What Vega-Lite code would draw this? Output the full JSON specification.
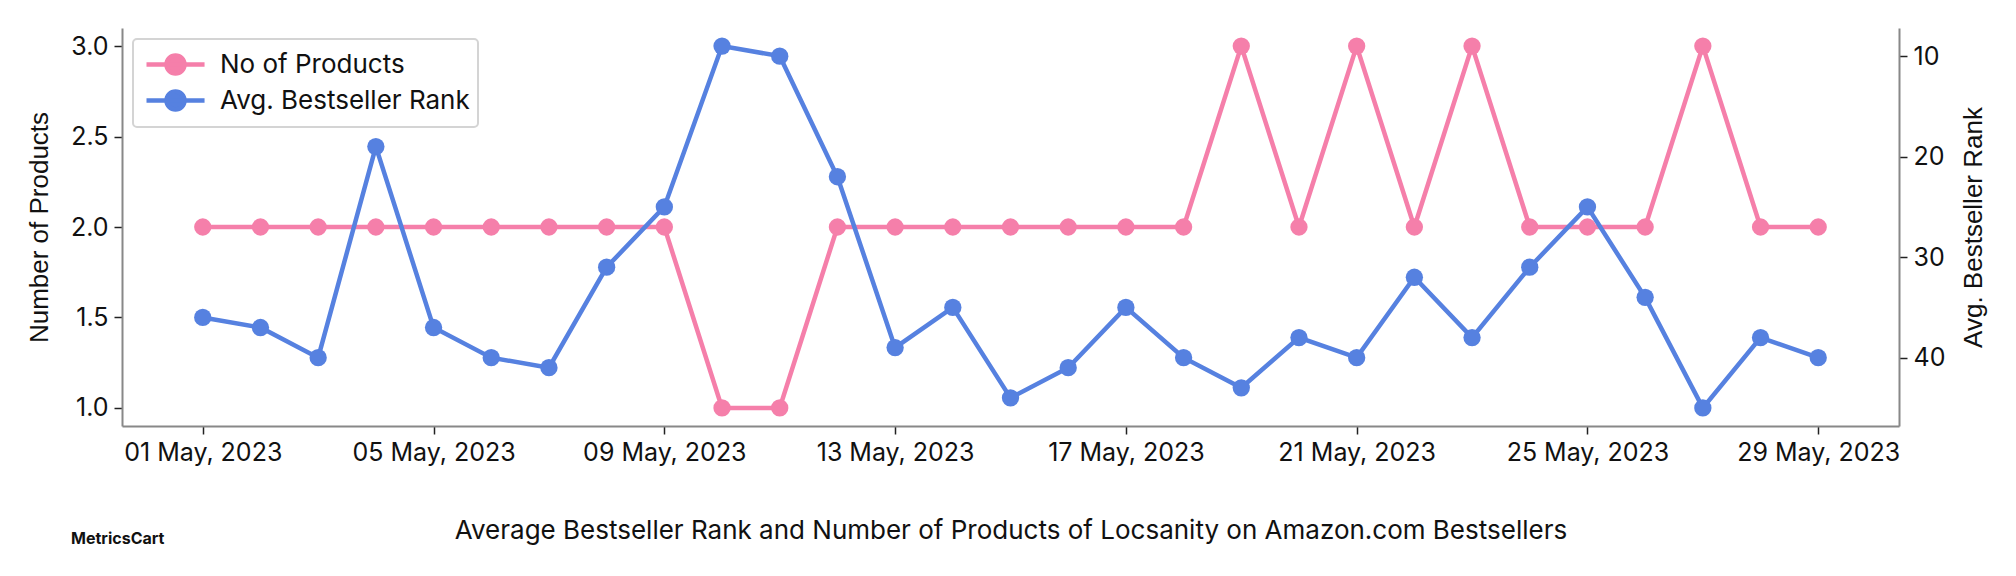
{
  "$schema": "https://vega.github.io/schema/vega-lite/v6.json",
  "width": 1777,
  "height": 398,
  "autosize": {"type": "none"},
  "padding": {"left": 122, "top": 28, "right": 117, "bottom": 150},
  "background": "white",
  "config": {
    "view": {"stroke": null},
    "axis": {
      "grid": false,
      "domainColor": "#888888",
      "domainWidth": 2,
      "tickColor": "#222222",
      "tickWidth": 1.5,
      "tickSize": 8,
      "labelPadding": 6,
      "labelFont": "Inter",
      "labelFontSize": 25,
      "labelColor": "#111111",
      "titleFont": "Liberation Sans",
      "titleFontSize": 26,
      "titleFontWeight": "normal",
      "titleColor": "#111111"
    }
  },
  "title": {
    "text": "MetricsCart",
    "orient": "bottom",
    "anchor": "start",
    "frame": "group",
    "font": "Inter",
    "fontSize": 16,
    "fontWeight": "bold",
    "color": "#111111",
    "baseline": "middle",
    "offset": 0,
    "dx": -51,
    "dy": -4
  },
  "data": {
    "values": [
      {"date": "2023-05-01T00:00:00", "products": 2, "rank": 36},
      {"date": "2023-05-02T00:00:00", "products": 2, "rank": 37},
      {"date": "2023-05-03T00:00:00", "products": 2, "rank": 40},
      {"date": "2023-05-04T00:00:00", "products": 2, "rank": 19},
      {"date": "2023-05-05T00:00:00", "products": 2, "rank": 37},
      {"date": "2023-05-06T00:00:00", "products": 2, "rank": 40},
      {"date": "2023-05-07T00:00:00", "products": 2, "rank": 41},
      {"date": "2023-05-08T00:00:00", "products": 2, "rank": 31},
      {"date": "2023-05-09T00:00:00", "products": 2, "rank": 25},
      {"date": "2023-05-10T00:00:00", "products": 1, "rank": 9},
      {"date": "2023-05-11T00:00:00", "products": 1, "rank": 10},
      {"date": "2023-05-12T00:00:00", "products": 2, "rank": 22},
      {"date": "2023-05-13T00:00:00", "products": 2, "rank": 39},
      {"date": "2023-05-14T00:00:00", "products": 2, "rank": 35},
      {"date": "2023-05-15T00:00:00", "products": 2, "rank": 44},
      {"date": "2023-05-16T00:00:00", "products": 2, "rank": 41},
      {"date": "2023-05-17T00:00:00", "products": 2, "rank": 35},
      {"date": "2023-05-18T00:00:00", "products": 2, "rank": 40},
      {"date": "2023-05-19T00:00:00", "products": 3, "rank": 43},
      {"date": "2023-05-20T00:00:00", "products": 2, "rank": 38},
      {"date": "2023-05-21T00:00:00", "products": 3, "rank": 40},
      {"date": "2023-05-22T00:00:00", "products": 2, "rank": 32},
      {"date": "2023-05-23T00:00:00", "products": 3, "rank": 38},
      {"date": "2023-05-24T00:00:00", "products": 2, "rank": 31},
      {"date": "2023-05-25T00:00:00", "products": 2, "rank": 25},
      {"date": "2023-05-26T00:00:00", "products": 2, "rank": 34},
      {"date": "2023-05-27T00:00:00", "products": 3, "rank": 45},
      {"date": "2023-05-28T00:00:00", "products": 2, "rank": 38},
      {"date": "2023-05-29T00:00:00", "products": 2, "rank": 40}
    ]
  },
  "encoding": {
    "x": {
      "field": "date",
      "type": "temporal",
      "scale": {
        "domain": [
          {"year": 2023, "month": 4, "date": 29, "hours": 14, "minutes": 24},
          {"year": 2023, "month": 5, "date": 30, "hours": 9, "minutes": 36}
        ]
      },
      "axis": {
        "values": [
          {"year": 2023, "month": 5, "date": 1},
          {"year": 2023, "month": 5, "date": 5},
          {"year": 2023, "month": 5, "date": 9},
          {"year": 2023, "month": 5, "date": 13},
          {"year": 2023, "month": 5, "date": 17},
          {"year": 2023, "month": 5, "date": 21},
          {"year": 2023, "month": 5, "date": 25},
          {"year": 2023, "month": 5, "date": 29}
        ],
        "format": "%d %b, %Y",
        "title": "Average Bestseller Rank and Number of Products of Locsanity on Amazon.com Bestsellers",
        "titleFont": "Inter",
        "titleFontSize": 26,
        "titleBaseline": "middle",
        "titleY": 104,
        "labelFlush": false
      }
    }
  },
  "layer": [
    {
      "mark": {"type": "line", "strokeWidth": 4.5, "point": {"filled": true, "size": 300, "opacity": 1}},
      "encoding": {
        "y": {
          "field": "products",
          "type": "quantitative",
          "scale": {"domain": [0.9, 3.1], "nice": false, "zero": false},
          "axis": {"values": [1, 1.5, 2, 2.5, 3], "format": ".1f", "title": "Number of Products", "titlePadding": 18}
        },
        "color": {
          "datum": "No of Products",
          "type": "nominal",
          "scale": {"domain": ["No of Products", "Avg. Bestseller Rank"], "range": ["#F57FAA", "#5681E0"]},
          "legend": {
            "title": null,
            "orient": "top-left",
            "offset": 11,
            "padding": 8,
            "rowPadding": -9,
            "symbolType": "M-0.8,0L3.07,0M0.533,0A0.6,0.6,0,1,0,1.733,0A0.6,0.6,0,1,0,0.533,0Z",
            "symbolSize": 900,
            "symbolStrokeWidth": 4.5,
            "labelOffset": 44,
            "labelLimit": 600,
            "labelFont": "Inter",
            "labelFontSize": 26,
            "labelColor": "#111111",
            "strokeColor": "#d4d4d4",
            "fillColor": "white",
            "cornerRadius": 4,
            "encode": {
              "symbols": {"update": {"fill": {"scale": "color", "field": "value"}, "fillOpacity": {"value": 1}, "opacity": {"value": 1}}},
              "legend": {"update": {"strokeWidth": {"value": 2}}}
            }
          }
        }
      }
    },
    {
      "mark": {"type": "line", "strokeWidth": 4.5, "point": {"filled": true, "size": 300, "opacity": 1}},
      "encoding": {
        "y": {
          "field": "rank",
          "type": "quantitative",
          "scale": {"domain": [7.2, 46.8], "nice": false, "zero": false, "reverse": true},
          "axis": {"orient": "right", "values": [10, 20, 30, 40], "title": "Avg. Bestseller Rank", "titleAngle": 270, "titleBaseline": "top", "titlePadding": 16}
        },
        "color": {"datum": "Avg. Bestseller Rank", "type": "nominal"}
      }
    }
  ],
  "resolve": {"scale": {"y": "independent"}}
}
